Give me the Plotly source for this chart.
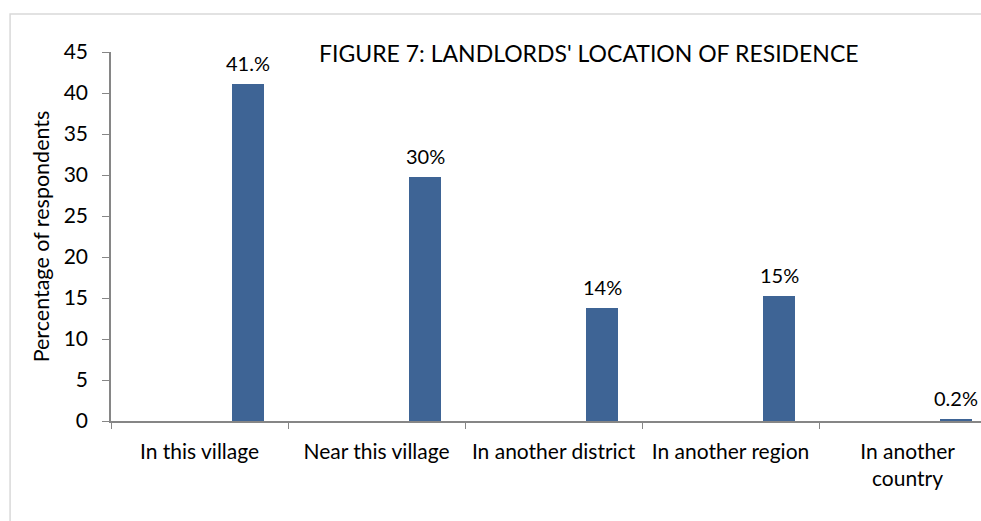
import plotly.graph_objects as go

categories = ["In this village", "Near this village", "In another district",
              "In another region", "In another country"]
tick_labels = ["In this village", "Near this village", "In another district",
               "In another region", "In another<br>country"]
values = [41.1, 29.7, 13.8, 15.3, 0.2]
value_labels = ["41.%", "30%", "14%", "15%", "0.2%"]

FONT = "Lato"
FS = 21
BAR_OFFSET = 0.185
BAR_WIDTH = 0.18
X_RANGE = [-0.5, 4.415]
PLOT_W = 870

fig = go.Figure()
fig.add_trace(go.Bar(
    x=categories, y=values,
    offset=BAR_OFFSET, width=BAR_WIDTH,
    marker=dict(color="#3E6495", line=dict(width=0)),
    showlegend=False, hoverinfo="skip",
))

px_per_cat = PLOT_W / (X_RANGE[1] - X_RANGE[0])
label_shift = (BAR_OFFSET + BAR_WIDTH / 2) * px_per_cat
annotations = [dict(x=c, y=v, text=t, xref="x", yref="y", showarrow=False,
                    xanchor="center", yanchor="bottom", xshift=label_shift, yshift=7,
                    font=dict(family=FONT, size=20, color="#000000"))
               for c, v, t in zip(categories, values, value_labels)]
annotations.append(dict(text="FIGURE 7: LANDLORDS' LOCATION OF RESIDENCE",
                        xref="paper", yref="paper", x=0.549, y=0.996,
                        xanchor="center", yanchor="middle", showarrow=False,
                        font=dict(family=FONT, size=23, color="#000000")))

fig.update_layout(
    width=981, height=521,
    margin=dict(l=111, r=0, t=52, b=100),
    paper_bgcolor="white", plot_bgcolor="white",
    font=dict(family=FONT, size=FS, color="#000000"),
    bargap=0,
    xaxis=dict(
        type="category", range=X_RANGE,
        tickmode="array", tickvals=categories, ticktext=tick_labels,
        tickson="boundaries", ticks="outside", ticklen=6, tickcolor="#868686",
        showline=True, linecolor="#868686", linewidth=1.5,
        showgrid=False, ticklabelstandoff=11,
        tickfont=dict(family=FONT, size=FS, color="#000000"),
    ),
    yaxis=dict(
        range=[0, 45], dtick=5, ticks="outside", ticklen=7, tickcolor="#868686",
        showline=True, linecolor="#868686", linewidth=1.5,
        showgrid=False, zeroline=False, ticklabelstandoff=10,
        tickfont=dict(family=FONT, size=FS, color="#000000"),
        title=dict(text="Percentage of respondents", standoff=8,
                   font=dict(family=FONT, size=21.5, color="#000000")),
    ),
    shapes=[dict(type="rect", xref="paper", yref="paper",
                 x0=-0.116, x1=1.2, y0=-0.5, y1=1.103,
                 line=dict(color="#D9D9D9", width=1.5), fillcolor="rgba(0,0,0,0)",
                 layer="below")],
    annotations=annotations,
)

fig.write_html("out.html", config={"displayModeBar": False},
               post_script="document.body.style.margin='0';document.body.style.overflow='hidden';")
